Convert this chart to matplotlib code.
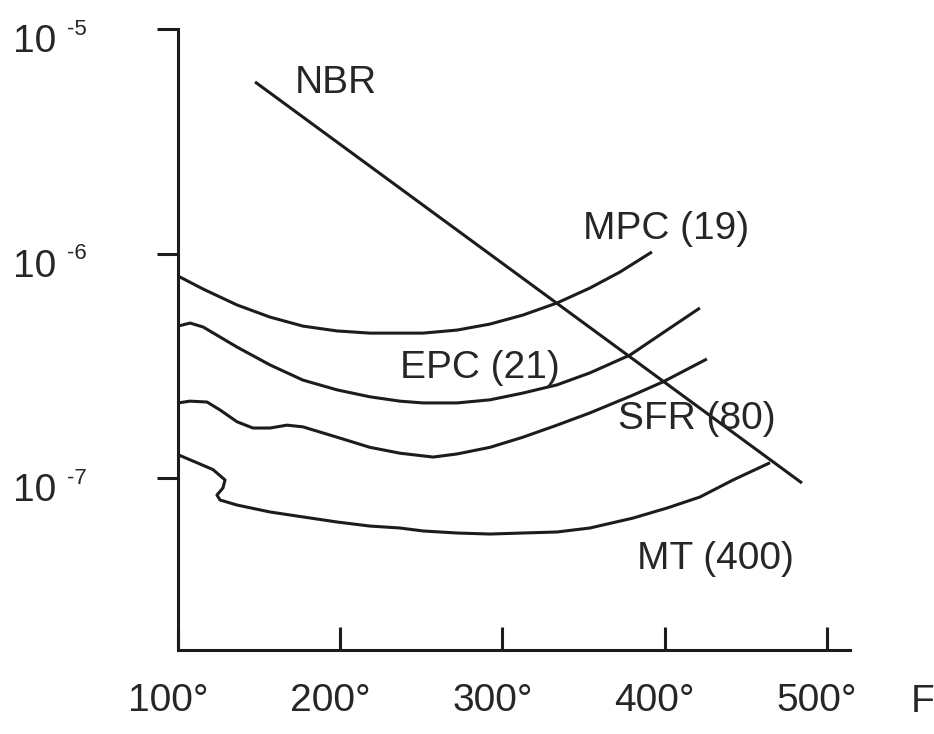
import numpy as np
import matplotlib
matplotlib.use('Agg')
import matplotlib.pyplot as plt
import matplotlib.transforms as mtransforms
from matplotlib.ticker import NullLocator

plt.rcParams['font.family'] = ['Liberation Sans', 'DejaVu Sans']

# valores (temperatura em °F, taxa em escala log)
nbr_t = [147.5, 484.6]
nbr_v = [5.81e-6, 9.50e-8]

mpc_t = [100, 115.4, 136.4, 156.7, 177.0, 198.0, 218.3, 236.8, 251.0, 272.0, 292.3, 312.6,
         333.6, 353.9, 372.4, 392.1]
mpc_v = [7.94e-7, 6.95e-7, 5.90e-7, 5.21e-7, 4.75e-7, 4.52e-7, 4.42e-7, 4.42e-7, 4.42e-7, 4.56e-7,
         4.85e-7, 5.32e-7, 6.02e-7, 7.02e-7, 8.27e-7, 1.016e-6]

epc_t = [100, 107.4, 115.4, 136.4, 156.7, 177.0, 198.0, 218.3, 236.8, 251.0, 272.0, 292.3, 312.6,
         333.6, 353.9, 378.6, 401.4, 421.7]
epc_v = [4.75e-7, 4.90e-7, 4.71e-7, 3.83e-7, 3.19e-7, 2.73e-7, 2.47e-7, 2.30e-7, 2.20e-7, 2.16e-7,
         2.16e-7, 2.23e-7, 2.39e-7, 2.60e-7, 2.94e-7, 3.53e-7, 4.56e-7, 5.72e-7]

sfr_t = [100, 107.4, 117.9, 125.9, 136.4, 146.2, 156.7, 167.2, 177.0, 198.0, 218.3, 236.8, 257.2,
         272.0, 292.3, 312.6, 333.6, 353.9, 380.4, 398.9, 426.0]
sfr_v = [2.16e-7, 2.20e-7, 2.18e-7, 2.01e-7, 1.78e-7, 1.67e-7, 1.67e-7, 1.72e-7, 1.69e-7, 1.52e-7,
         1.37e-7, 1.29e-7, 1.24e-7, 1.28e-7, 1.37e-7, 1.52e-7, 1.72e-7, 1.95e-7, 2.34e-7, 2.68e-7, 3.39e-7]

mt_t = [100, 111.7, 121.6, 129.0, 127.7, 124.0, 125.9, 136.4, 156.7, 177.0, 198.0, 218.3, 236.8,
        251.0, 272.0, 292.3, 312.6, 333.6, 353.9, 380.4, 401.4, 421.7, 442.1, 464.9]
mt_v = [1.27e-7, 1.17e-7, 1.09e-7, 9.80e-8, 9.03e-8, 8.40e-8, 7.98e-8, 7.58e-8, 7.06e-8, 6.71e-8,
        6.37e-8, 6.11e-8, 5.99e-8, 5.81e-8, 5.69e-8, 5.63e-8, 5.69e-8, 5.75e-8, 5.99e-8, 6.63e-8,
        7.35e-8, 8.23e-8, 9.80e-8, 1.17e-7]

x_ticks = [100, 200, 300, 400, 500]
x_labels = ['100°', '200°', '300°', '400°', '500°']
y_ticks = [1e-7, 1e-6, 1e-5]
y_exps = ['-7', '-6', '-5']

cor = '#1c1c1c'
cor_txt = '#262626'

fig = plt.figure(figsize=(9.34, 7.34), dpi=100)
ax = fig.add_axes([0.19058, 0.11444, 0.71949, 0.84605])

for t, v in [(nbr_t, nbr_v), (mpc_t, mpc_v), (epc_t, epc_v), (sfr_t, sfr_v), (mt_t, mt_v)]:
    ax.plot(t, v, color=cor, lw=2.2, solid_capstyle='butt', solid_joinstyle='round')

ax.set_yscale('log')
ax.set_xlim(100, 514.2)
ax.set_ylim(1.714e-8, 1e-5)

ax.spines['top'].set_visible(False)
ax.spines['right'].set_visible(False)
ax.spines['left'].set_linewidth(2.2)
ax.spines['bottom'].set_linewidth(2.2)
ax.spines['left'].set_color(cor)
ax.spines['bottom'].set_color(cor)

ax.set_xticks(x_ticks)
ax.set_xticklabels(x_labels)
ax.set_yticks(y_ticks)
ax.set_yticklabels(['10'] * len(y_ticks))
ax.yaxis.set_minor_locator(NullLocator())

ax.tick_params(axis='x', direction='in', length=16.5, width=2.2, color=cor,
               labelsize=28, labelcolor=cor_txt, pad=24)
ax.tick_params(axis='y', direction='out', length=15, width=2.2, color=cor,
               labelsize=28, labelcolor=cor_txt, pad=73)

# pequenos deslocamentos dos rótulos, como no original
desl_x = mtransforms.ScaledTranslation(-10 / 100, 0, fig.dpi_scale_trans)
for lab in ax.get_xticklabels():
    lab.set_transform(lab.get_transform() + desl_x)
desl_y = mtransforms.ScaledTranslation(0, 5 / 100, fig.dpi_scale_trans)
for lab in ax.get_yticklabels():
    lab.set_va('top')
    lab.set_transform(lab.get_transform() + desl_y)

# expoentes dos rótulos do eixo y
for yv, e in zip(y_ticks, y_exps):
    ax.text(-0.165, yv, e, transform=ax.get_yaxis_transform(), fontsize=16,
            color=cor_txt, ha='left', va='center', clip_on=False)

# nomes das curvas
rotulos = [('NBR', 172.1, 5.74e-6), ('MPC (19)', 349.6, 1.285e-6), ('EPC (21)', 236.8, 3.09e-7),
           ('SFR (80)', 371.2, 1.83e-7), ('MT (400)', 382.9, 4.36e-8)]
for txt, tx, ty in rotulos:
    ax.text(tx, ty, txt, fontsize=28, color=cor_txt, ha='left', va='center')

fig.text(923 / 934, 1 - 702 / 734, 'F', fontsize=28, color=cor_txt, ha='center', va='center')

fig.savefig('out.png', dpi=100, facecolor='white')
